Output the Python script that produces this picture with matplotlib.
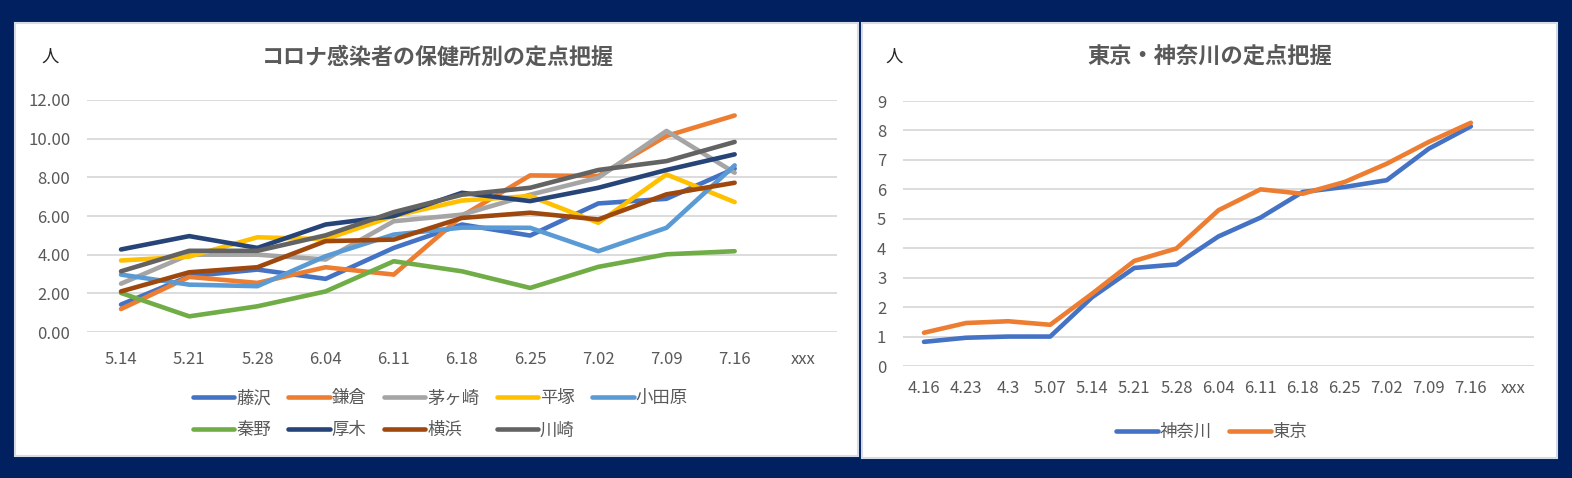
import matplotlib
matplotlib.use("Agg")
import matplotlib.pyplot as plt
from matplotlib.patches import Rectangle

plt.rcParams['font.family'] = ['Noto Sans CJK JP', 'DejaVu Sans']

# 左: 保健所別
dates_l = ['5.14', '5.21', '5.28', '6.04', '6.11', '6.18', '6.25', '7.02', '7.09', '7.16', 'xxx']
fujisawa = [1.42, 2.88, 3.23, 2.75, 4.35, 5.56, 4.99, 6.65, 6.89, 8.45]
kamakura = [1.19, 2.85, 2.54, 3.35, 2.97, 6.0, 8.1, 8.07, 10.14, 11.2]
chigasaki = [2.5, 4.0, 4.0, 3.75, 5.73, 6.07, 7.1, 7.98, 10.4, 8.24]
hiratsuka = [3.7, 3.9, 4.9, 4.8, 6.0, 6.8, 7.03, 5.65, 8.15, 6.72]
odawara = [2.97, 2.45, 2.37, 3.92, 5.04, 5.4, 5.39, 4.18, 5.39, 8.62]
hadano = [2.02, 0.81, 1.33, 2.1, 3.66, 3.14, 2.28, 3.37, 4.02, 4.18]
atsugi = [4.27, 4.96, 4.35, 5.56, 6.0, 7.2, 6.77, 7.46, 8.38, 9.19]
yokohama = [2.1, 3.09, 3.35, 4.7, 4.78, 5.9, 6.17, 5.82, 7.12, 7.72]
kawasaki = [3.14, 4.2, 4.2, 5.0, 6.2, 7.1, 7.46, 8.38, 8.84, 9.83]

series_l = [
    ('藤沢', fujisawa, '#4472C4'),
    ('鎌倉', kamakura, '#ED7D31'),
    ('茅ヶ崎', chigasaki, '#A5A5A5'),
    ('平塚', hiratsuka, '#FFC000'),
    ('小田原', odawara, '#5B9BD5'),
    ('秦野', hadano, '#70AD47'),
    ('厚木', atsugi, '#264478'),
    ('横浜', yokohama, '#9E480E'),
    ('川崎', kawasaki, '#636363'),
]

# 右: 東京・神奈川
dates_r = ['4.16', '4.23', '4.3', '5.07', '5.14', '5.21', '5.28', '6.04', '6.11',
           '6.18', '6.25', '7.02', '7.09', '7.16', 'xxx']
kanagawa = [0.82, 0.96, 1.0, 1.0, 2.34, 3.33, 3.45, 4.4, 5.04, 5.91, 6.08, 6.31, 7.38, 8.14]
tokyo = [1.13, 1.46, 1.52, 1.4, 2.46, 3.57, 3.99, 5.29, 6.0, 5.85, 6.25, 6.87, 7.61, 8.26]

series_r = [
    ('神奈川', kanagawa, '#4472C4'),
    ('東京', tokyo, '#ED7D31'),
]

TXT = '#595959'
GRID = '#D9D9D9'

fig = plt.figure(figsize=(15.72, 4.78), dpi=100)
fig.patch.set_facecolor('#002060')

# 白いパネル
fig.patches.append(Rectangle((0.0095, 0.046), 0.5363, 0.9059, transform=fig.transFigure,
                             facecolor='white', edgecolor='#D6DCE5', linewidth=1.5, zorder=-10))
fig.patches.append(Rectangle((0.5483, 0.0418), 0.4421, 0.910, transform=fig.transFigure,
                             facecolor='white', edgecolor='#D6DCE5', linewidth=1.5, zorder=-10))


def style_axes(ax, labels, ymax, step, fmt, xpad):
    ax.set_facecolor('none')
    ax.set_xlim(-0.5, len(labels) - 0.5)
    ax.set_ylim(0, ymax)
    ax.set_xticks(range(len(labels)))
    ax.set_xticklabels(labels)
    ticks = [i * step for i in range(int(round(ymax / step)) + 1)]
    ax.set_yticks(ticks)
    ax.set_yticklabels([fmt.format(t) for t in ticks])
    for s in ax.spines.values():
        s.set_visible(False)
    ax.tick_params(length=0, labelsize=12, colors=TXT)
    ax.tick_params(axis='x', pad=xpad)
    ax.tick_params(axis='y', pad=12)
    ax.yaxis.grid(True, color=GRID, linewidth=1.3)
    ax.set_axisbelow(True)


# 左グラフ
ax1 = fig.add_axes([0.0553, 0.3054, 0.4771, 0.4854])
style_axes(ax1, dates_l, 12, 2, '{:.2f}', 14)
lines = {}
for name, vals, col in series_l:
    lines[name], = ax1.plot(range(len(vals)), vals, color=col, linewidth=3.3, label=name,
                            solid_capstyle='round', solid_joinstyle='round')
fig.text(0.2786, 0.8808, 'コロナ感染者の保健所別の定点把握', ha='center', va='center',
         fontsize=15.8, fontweight='bold', color=TXT)
fig.text(0.0318, 0.8808, '人', ha='center', va='center', fontsize=12.5, color='#262626')
# 凡例は行方向に並べる
names = [s[0] for s in series_l]
order = [names[i] for i in (0, 5, 1, 6, 2, 7, 3, 8, 4)]
ax1.legend([lines[n] for n in order], order,
           loc='center', bbox_to_anchor=(0.280, 0.133), bbox_transform=fig.transFigure,
           ncol=5, frameon=False, fontsize=12.5, handlelength=2.4, handletextpad=0.1,
           columnspacing=1.0, labelspacing=0.8, labelcolor=TXT)

# 右グラフ
ax2 = fig.add_axes([0.5744, 0.2343, 0.4014, 0.5544])
style_axes(ax2, dates_r, 9, 1, '{:d}', 10)
for name, vals, col in series_r:
    ax2.plot(range(len(vals)), vals, color=col, linewidth=3.3, label=name,
             solid_capstyle='round', solid_joinstyle='round')
fig.text(0.7697, 0.8808, '東京・神奈川の定点把握', ha='center', va='center',
         fontsize=16, fontweight='bold', color=TXT)
fig.text(0.5687, 0.8808, '人', ha='center', va='center', fontsize=12.5, color='#262626')
ax2.legend(loc='center', bbox_to_anchor=(0.771, 0.097), bbox_transform=fig.transFigure,
           ncol=2, frameon=False, fontsize=12.5, handlelength=2.4, handletextpad=0.1,
           columnspacing=1.0, labelcolor=TXT)

fig.savefig('out.png', dpi=100, facecolor=fig.get_facecolor())
